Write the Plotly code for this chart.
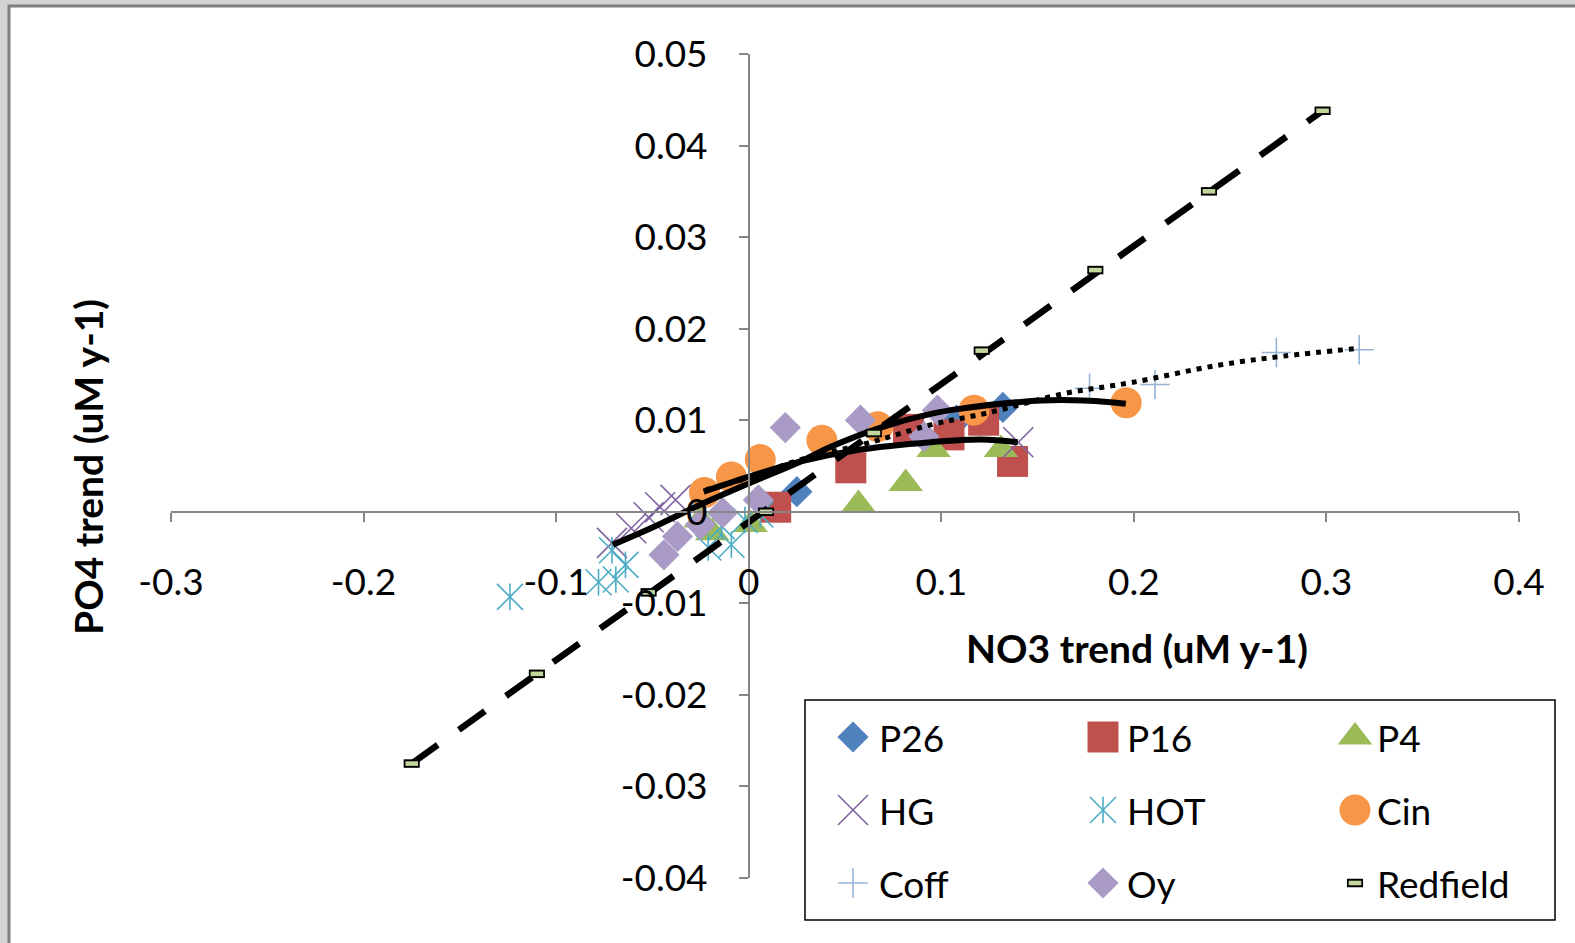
import plotly.graph_objects as go

W, H = 1575, 943
FONT = "Lato"

# ---- axes ----
x_range = [-0.3, 0.4]
y_range = [-0.04, 0.05]
x_tickvals = [-0.3, -0.2, -0.1, 0.0, 0.1, 0.2, 0.3, 0.4]
x_ticktext = ["-0.3", "-0.2", "-0.1", "0", "0.1", "0.2", "0.3", "0.4"]
y_tickvals = [-0.04, -0.03, -0.02, -0.01, 0.0, 0.01, 0.02, 0.03, 0.04, 0.05]
y_ticktext = ["-0.04", "-0.03", "-0.02", "-0.01", "0", "0.01", "0.02", "0.03", "0.04", "0.05"]

# ---- series (NO3 trend, PO4 trend) ----
p26_x = [0.025, 0.108, 0.132]
p26_y = [0.0022, 0.0100, 0.0114]

p16_x = [0.014, 0.053, 0.083, 0.104, 0.122, 0.137]
p16_y = [0.0005, 0.0048, 0.0090, 0.0084, 0.0100, 0.0055]

p4_x = [-0.025, -0.019, 0.001, 0.057, 0.0815, 0.096, 0.131]
p4_y = [-0.0009, -0.0023, -0.0014, 0.0008, 0.0031, 0.0068, 0.0068]

hg_x = [-0.071, -0.061, -0.052, -0.046, -0.038, 0.140]
hg_y = [-0.0034, -0.0018, -0.0006, 0.0005, 0.0013, 0.0076]

hot_x = [-0.124, -0.078, -0.069, -0.064, -0.071, -0.021, -0.009, -0.014, -0.002, 0.006]
hot_y = [-0.0093, -0.0077, -0.0074, -0.0058, -0.0042, -0.0039, -0.0036, -0.0016, -0.0009, -0.0003]

cin_x = [-0.023, -0.009, 0.006, 0.038, 0.067, 0.117, 0.196]
cin_y = [0.0021, 0.0038, 0.0057, 0.0078, 0.0093, 0.0111, 0.0119]

coff_x = [0.177, 0.211, 0.274, 0.317]
coff_y = [0.0135, 0.0139, 0.0174, 0.0177]

oy_x = [-0.044, -0.037, -0.025, -0.0135, 0.005, 0.019, 0.058, 0.091, 0.098]
oy_y = [-0.0047, -0.0027, -0.0014, -0.0001, 0.0013, 0.0092, 0.0100, 0.0082, 0.0111]

redfield_x = [-0.175, -0.110, -0.052, 0.009, 0.065, 0.121, 0.180, 0.239, 0.298]
redfield_y = [-0.0275, -0.0177, -0.0088, 0.0000, 0.0086, 0.0176, 0.0264, 0.0350, 0.0438]

# ---- fitted trend curves ----
fit_upper_x = [-0.0706, -0.0457, -0.0249, 0.0, 0.027, 0.0426, 0.0685, 0.0945, 0.1116, 0.1412, 0.162, 0.1864, 0.1958]
fit_upper_y = [-0.0036, -0.0013, 0.0008, 0.0031, 0.0055, 0.0071, 0.0092, 0.0107, 0.0113, 0.0120, 0.0122, 0.0120, 0.0118]

fit_lower_x = [-0.0234, 0.001, 0.027, 0.0582, 0.0945, 0.1205, 0.1397]
fit_lower_y = [0.0022, 0.0039, 0.0055, 0.0068, 0.0076, 0.0079, 0.0076]

fit_coff_x = [-0.0223, -0.0005, 0.027, 0.0618, 0.0945, 0.1241, 0.1636, 0.1984, 0.2435, 0.2778, 0.3142]
fit_coff_y = [0.0024, 0.0037, 0.0057, 0.0075, 0.0095, 0.0108, 0.0129, 0.0141, 0.0160, 0.0170, 0.0178]

# ---- marker styles ----
styles = {
    "P26": dict(symbol="diamond", size=24, color="#4F81BD"),
    "P16": dict(symbol="square", size=31, color="#C0504D"),
    "P4": dict(symbol="triangle-up", size=30, color="#9BBB59"),
    "HG": dict(symbol="x-thin-open", size=30, color="#8064A2", line=True),
    "HOT": dict(symbol="x-thin-open", size=26, color="#4BACC6", line=True),
    "Cin": dict(symbol="circle", size=31, color="#F79646"),
    "Coff": dict(symbol="cross-thin-open", size=21, color="#95B3D7", line=True),
    "Oy": dict(symbol="diamond", size=24, color="#A99BC6"),
}
series = [
    ("P26", p26_x, p26_y),
    ("P16", p16_x, p16_y),
    ("P4", p4_x, p4_y),
    ("HG", hg_x, hg_y),
    ("HOT", hot_x, hot_y),
    ("Cin", cin_x, cin_y),
    ("Coff", coff_x, coff_y),
    ("Oy", oy_x, oy_y),
]
REDFIELD_FILL = "#C3D69B"


def marker_of(st):
    if st.get("line"):
        return dict(symbol=st["symbol"], size=st["size"], color=st["color"],
                    line=dict(color=st["color"], width=1.6))
    return dict(symbol=st["symbol"], size=st["size"], color=st["color"], line=dict(width=0))


def hot_spoke(color):
    # vertical stroke that turns the X into a six-armed star
    return dict(symbol="line-ns-open", size=19, color=color, line=dict(color=color, width=1.6))


fig = go.Figure()

for name, xs, ys in series:
    st = styles[name]
    fig.add_trace(go.Scatter(x=xs, y=ys, mode="markers", name=name,
                             marker=marker_of(st), showlegend=False))
    if name == "HOT":
        fig.add_trace(go.Scatter(x=xs, y=ys, mode="markers", showlegend=False,
                                 marker=hot_spoke(st["color"])))

# trend curves
for fx, fy, dash, lw in [(fit_upper_x, fit_upper_y, "solid", 6),
                         (fit_lower_x, fit_lower_y, "solid", 6),
                         (fit_coff_x, fit_coff_y, "5px,6px", 5)]:
    fig.add_trace(go.Scatter(x=fx, y=fy, mode="lines", showlegend=False,
                             line=dict(color="black", width=lw, dash=dash,
                                       shape="spline", smoothing=1.0)))

# Redfield linear trend
fig.add_trace(go.Scatter(x=[redfield_x[0], redfield_x[-1]], y=[redfield_y[0], redfield_y[-1]],
                         mode="lines", showlegend=False,
                         line=dict(color="black", width=6.5, dash="32px,26px")))


def redfield_markers(xs, ys, xaxis="x", yaxis="y"):
    return [
        go.Scatter(x=xs, y=ys, mode="markers", showlegend=False, xaxis=xaxis, yaxis=yaxis,
                   marker=dict(symbol="line-ew-open", size=11.5, color="black",
                               line=dict(color="black", width=8.5))),
        go.Scatter(x=xs, y=ys, mode="markers", showlegend=False, xaxis=xaxis, yaxis=yaxis,
                   marker=dict(symbol="line-ew-open", size=9, color=REDFIELD_FILL,
                               line=dict(color=REDFIELD_FILL, width=4.6))),
    ]


for tr in redfield_markers(redfield_x, redfield_y):
    fig.add_trace(tr)

# ---- legend panel (3 x 3 grid) ----
LEG = dict(x0=805, x1=1555, y0=700, y1=920)
legend_names = ["P26", "P16", "P4", "HG", "HOT", "Cin", "Coff", "Oy", "Redfield"]
col_marker = [48, 298, 550]
col_text = [72, 320, 570]
row_y = [37, 110, 183]

for i, name in enumerate(legend_names):
    c, r = i % 3, i // 3
    mx, my = col_marker[c], row_y[r]
    if name == "Redfield":
        for tr in redfield_markers([mx], [my], "x2", "y2"):
            fig.add_trace(tr)
    else:
        st = styles[name]
        fig.add_trace(go.Scatter(x=[mx], y=[my], mode="markers", showlegend=False,
                                 xaxis="x2", yaxis="y2", marker=marker_of(st)))
        if name == "HOT":
            fig.add_trace(go.Scatter(x=[mx], y=[my], mode="markers", showlegend=False,
                                     xaxis="x2", yaxis="y2", marker=hot_spoke(st["color"])))
    fig.add_annotation(x=col_text[c], y=my, xref="x2", yref="y2", text=name,
                       showarrow=False, xanchor="left", yanchor="middle",
                       font=dict(family=FONT, size=37, color="black"))

# ---- geometry ----
PX0, PX1, PY0, PY1 = 171, 1519, 54, 878
x_dom = [PX0 / W, PX1 / W]
y_dom = [1 - PY1 / H, 1 - PY0 / H]
x_axis_pos = y_dom[0] + (0 - y_range[0]) / (y_range[1] - y_range[0]) * (y_dom[1] - y_dom[0])
y_axis_pos = x_dom[0] + (0 - x_range[0]) / (x_range[1] - x_range[0]) * (x_dom[1] - x_dom[0])

AXIS_COLOR = "#868686"
tickfont = dict(family=FONT, size=37, color="black")

fig.update_layout(
    width=W, height=H,
    margin=dict(l=0, r=0, t=0, b=0, pad=0),
    paper_bgcolor="#d4d4d4",
    plot_bgcolor="rgba(0,0,0,0)",
    showlegend=False,
    xaxis=dict(domain=x_dom, range=x_range, anchor="free", position=x_axis_pos,
               tickvals=x_tickvals, ticktext=x_ticktext, tickfont=tickfont,
               showline=True, linecolor=AXIS_COLOR, linewidth=1.5,
               ticks="outside", ticklen=9, tickwidth=1.5, tickcolor=AXIS_COLOR,
               ticklabelstandoff=29, showgrid=False, zeroline=False, automargin=False),
    yaxis=dict(domain=y_dom, range=y_range, anchor="free", position=y_axis_pos,
               tickvals=y_tickvals, ticktext=y_ticktext, tickfont=tickfont,
               showline=True, linecolor=AXIS_COLOR, linewidth=1.5,
               ticks="outside", ticklen=9, tickwidth=1.5, tickcolor=AXIS_COLOR,
               ticklabelstandoff=24, showgrid=False, zeroline=False, automargin=False),
    xaxis2=dict(domain=[LEG["x0"] / W, LEG["x1"] / W], range=[0, LEG["x1"] - LEG["x0"]],
                anchor="y2", visible=False, fixedrange=True, automargin=False),
    yaxis2=dict(domain=[1 - LEG["y1"] / H, 1 - LEG["y0"] / H], range=[LEG["y1"] - LEG["y0"], 0],
                anchor="x2", visible=False, fixedrange=True, automargin=False),
    shapes=[
        # chart frame
        dict(type="rect", xref="paper", yref="paper", x0=9 / W, x1=1.02, y0=-0.02, y1=1 - 6 / H,
             fillcolor="white", line=dict(color="#7f7f7f", width=3), layer="below"),
        # legend box
        dict(type="rect", xref="paper", yref="paper",
             x0=LEG["x0"] / W, x1=LEG["x1"] / W, y0=1 - LEG["y1"] / H, y1=1 - LEG["y0"] / H,
             fillcolor="white", line=dict(color="black", width=1.5), layer="below"),
    ],
    annotations=list(fig.layout.annotations) + [
        dict(text="<b>NO3 trend (uM y-1)</b>", x=1137 / W, y=1 - 648 / H, xref="paper", yref="paper",
             showarrow=False, xanchor="center", yanchor="middle",
             font=dict(family=FONT, size=39, color="black")),
        dict(text="<b>PO4 trend (uM y-1)</b>", x=88 / W, y=1 - 467 / H, xref="paper", yref="paper",
             showarrow=False, xanchor="center", yanchor="middle", textangle=-90,
             font=dict(family=FONT, size=39, color="black")),
    ],
)

fig.write_html("out.html")
